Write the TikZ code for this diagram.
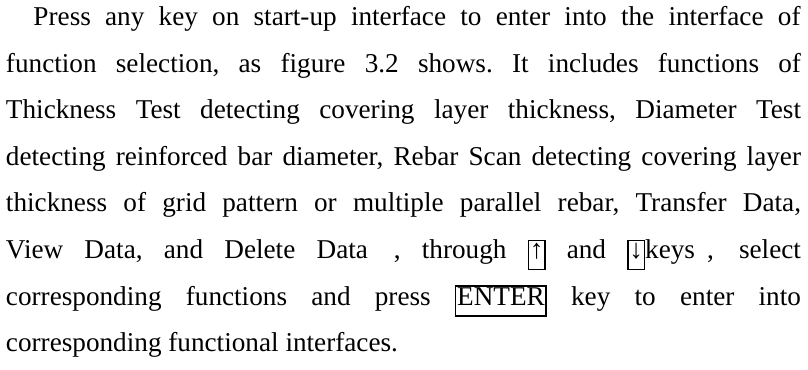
\documentclass[tikz,border=0pt]{standalone}
\usepackage{fontspec}
\setmainfont{Liberation Serif}
\frenchspacing
% framed key caps inside running text
\newcommand\keycap[1]{{\setlength\fboxrule{1.1pt}\setlength\fboxsep{0.5pt}\fbox{\rule[-7pt]{0pt}{19.5pt}#1}}}
% wide punctuation comma, drawn with the serif comma
\newcommand\widecomma{\kern3.5pt,}
\begin{document}
\begin{tikzpicture}[x=0.75pt,y=-0.75pt,
  textline/.style={anchor=base west,inner sep=0pt,outer sep=0pt,
    font=\fontsize{20.4pt}{30pt}\selectfont}]
\useasboundingbox (0,0) rectangle (808,369);
\def\fullw{596.25pt}
\node[textline] (l1) at (33.5,25.5) {\makebox[575.25pt][s]{Press any key on start-up interface to enter into the interface of}};
\node[textline] (l2) at (6,72.1) {\makebox[\fullw][s]{function selection, as figure 3.2 shows. It includes functions of}};
\node[textline] (l3) at (6,118.7) {\makebox[\fullw][s]{Thickness Test detecting covering layer thickness, Diameter Test}};
\node[textline] (l4) at (6,165.3) {\makebox[\fullw][s]{detecting reinforced bar diameter, Rebar Scan detecting covering layer}};
\node[textline] (l5) at (6,211.9) {\makebox[\fullw][s]{thickness of grid pattern or multiple parallel rebar, Transfer Data,}};
\node[textline] (l6) at (6,258.5) {\makebox[\fullw][s]{View Data, and Delete Data \widecomma{} through \keycap{↑} and \keycap{↓}keys\kern9pt,\kern3pt{} select}};
\node[textline] (l7) at (6,305.1) {\makebox[\fullw][s]{corresponding functions and press \keycap{ENTER} key to enter into}};
\node[textline] (l8) at (6,351.7) {corresponding functional interfaces.};
\end{tikzpicture}
\end{document}
